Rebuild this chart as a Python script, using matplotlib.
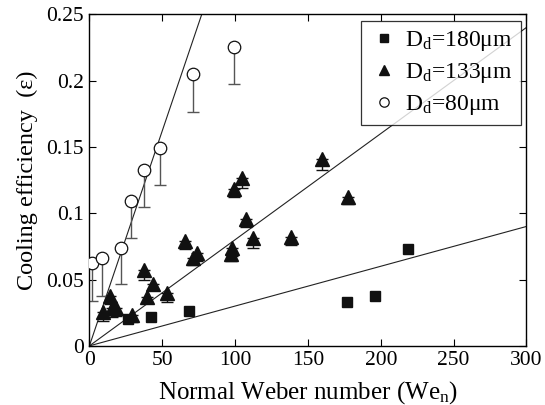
import numpy as np
import matplotlib
matplotlib.use("Agg")
import matplotlib.pyplot as plt

plt.rcParams["font.family"] = ["Liberation Serif", "DejaVu Serif"]
plt.rcParams["mathtext.fontset"] = "custom"
plt.rcParams["mathtext.rm"] = "Liberation Serif"
plt.rcParams["mathtext.it"] = "Liberation Serif:italic"

# D_d = 180 um (squares)
we_180 = [26.8, 42.1, 68.4, 177.0, 196.0, 219.0]
eps_180 = [0.020, 0.0216, 0.0264, 0.0332, 0.0375, 0.0729]

# D_d = 133 um (triangles), lower error bar
we_133 = [9.6, 14.2, 15.4, 18.3, 29.1, 37.5, 39.4, 43.9, 53.1, 65.6, 71.3, 74.1,
          97.7, 97.2, 107.3, 112.5, 99.5, 104.9, 138.1, 159.8, 177.2]
eps_133 = [0.0256, 0.0377, 0.0282, 0.0282, 0.023, 0.057, 0.037, 0.047, 0.040,
           0.079, 0.0666, 0.070, 0.0741, 0.0689, 0.0957, 0.081, 0.1179, 0.1266,
           0.0822, 0.1405, 0.1123]
err_133 = [0.007, 0.006, 0.0063, 0.006, 0.005, 0.007, 0.005, 0.0045, 0.007,
           0.006, 0.006, 0.006, 0.006, 0.005, 0.006, 0.007, 0.006, 0.0076,
           0.006, 0.008, 0.0055]

# D_d = 80 um (open circles), lower error bar
we_80 = [2.1, 8.9, 22.0, 28.4, 37.3, 48.3, 71.3, 99.5]
eps_80 = [0.0626, 0.0659, 0.0739, 0.1093, 0.1324, 0.1495, 0.2048, 0.2254]
err_80 = [0.0287, 0.0282, 0.0276, 0.0279, 0.0281, 0.0279, 0.0287, 0.0284]

# fitted lines through the origin
slopes = [0.0003, 0.0008, 0.00324]
we_fit = [0, 300]

fig = plt.figure(figsize=(5.45, 4.05), dpi=100)
ax = fig.add_axes([0.164, 0.146, 0.802, 0.819])

for s in slopes:
    ax.plot(we_fit, [s * w for w in we_fit], color="#222222", lw=0.8, zorder=1)

err_133 = np.asarray(err_133)
err_80 = np.asarray(err_80)
ax.errorbar(we_133, eps_133, yerr=[err_133, np.zeros_like(err_133)], fmt="none",
            ecolor="#111111", elinewidth=1.0, capsize=4, capthick=1.0, zorder=2)
ax.errorbar(we_80, eps_80, yerr=[err_80, np.zeros_like(err_80)], fmt="none",
            ecolor="#555555", elinewidth=1.0, capsize=4, capthick=1.0, zorder=2)

ax.plot(we_180, eps_180, "s", color="#111111", ms=7, ls="none", zorder=3,
        label=r"D$_{\mathrm{d}}$=180μm")
ax.plot(we_133, eps_133, "^", color="#111111", ms=10, ls="none", zorder=3,
        label=r"D$_{\mathrm{d}}$=133μm")
ax.plot(we_80, eps_80, "o", mfc="white", mec="#111111", mew=0.9, ms=9,
        ls="none", zorder=3, label=r"D$_{\mathrm{d}}$=80μm")

ax.set_xlim(0, 300)
ax.set_ylim(0, 0.25)
ax.set_xticks([0, 50, 100, 150, 200, 250, 300])
ax.set_yticks([0, 0.05, 0.1, 0.15, 0.2, 0.25])
ax.set_yticklabels(["0", "0.05", "0.1", "0.15", "0.2", "0.25"])
ax.tick_params(direction="in", top=True, right=True, length=5, labelsize=15.5,
               width=0.8, pad=4)
for sp in ax.spines.values():
    sp.set_linewidth(1.0)

ax.set_xlabel(r"Normal Weber number (We$_{\mathrm{n}}$)", fontsize=18, labelpad=6)
ax.set_ylabel("Cooling efficiency  (ε)", fontsize=17.5, labelpad=6)

leg = ax.legend(loc="upper right", fontsize=17, frameon=True, fancybox=False,
                edgecolor="black", handletextpad=0.3, borderpad=0.35,
                labelspacing=0.33, handlelength=1.2, borderaxespad=0,
                markerscale=0.75, bbox_to_anchor=(0.987, 0.979))
leg.get_frame().set_linewidth(0.9)

fig.savefig("out.png", dpi=100)
